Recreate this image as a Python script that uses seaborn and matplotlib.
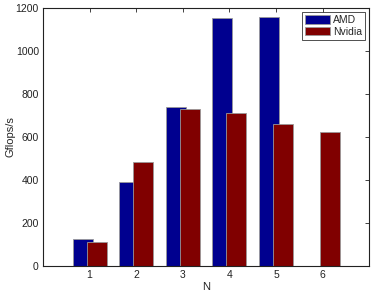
import matplotlib
matplotlib.use("Agg")
import matplotlib.pyplot as plt
import seaborn as sns
import pandas as pd
import numpy as np

N = [1, 2, 3, 4, 5, 6]
amd = [126, 392, 741, 1153, 1158, 0]
nvidia = [112, 485, 732, 713, 662, 625]
series = ["AMD", "Nvidia"]
colors = {"AMD": "#00008F", "Nvidia": "#800000"}
offsets = {"AMD": -0.15, "Nvidia": 0.15}

sns.set_theme(style="white")
plt.rcParams['font.family'] = ['Liberation Sans', 'DejaVu Sans']

fig = plt.figure(figsize=(3.74, 2.93), dpi=100)
ax = fig.add_axes([0.115, 0.092, 0.872, 0.881])

for name, vals in zip(series, [amd, nvidia]):
    df = pd.DataFrame({"x": np.array(N) + offsets[name], "y": vals})
    sns.barplot(data=df, x="x", y="y", native_scale=True, width=0.43,
                color=colors[name], saturation=1, edgecolor="#999999",
                linewidth=0.6, ax=ax, label=name)

ax.set_xlim(0, 7)
ax.set_ylim(0, 1200)
ax.set_xticks(N)
ax.set_xticklabels([str(n) for n in N])
ax.set_yticks(range(0, 1201, 200))
ax.tick_params(direction="in", length=3, width=0.6, labelsize=7.5,
               top=True, right=True, colors="#222222", pad=3)
for s in ax.spines.values():
    s.set_linewidth(0.8)
    s.set_color("#222222")
ax.set_xlabel("N", fontsize=8, labelpad=1)
ax.set_ylabel("Gflops/s", fontsize=8, labelpad=0)

leg = ax.legend(loc="upper right", fontsize=7.5, frameon=True, fancybox=False,
                edgecolor="black", borderpad=0.3, handlelength=2.4,
                handleheight=0.9, handletextpad=0.3, labelspacing=0.15,
                borderaxespad=0.4)
leg.get_frame().set_linewidth(0.6)

fig.savefig("out.png", dpi=100)
